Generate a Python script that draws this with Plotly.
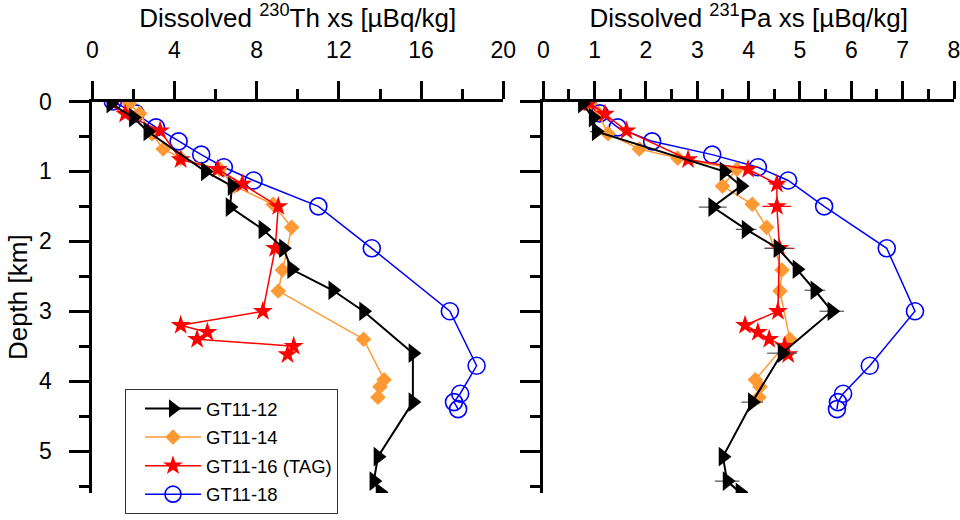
import plotly.graph_objects as go

# ---------------- data ----------------
series_names = ["GT11-12", "GT11-14", "GT11-16 (TAG)", "GT11-18"]

# GT11-12
depth_12 = [0.03, 0.23, 0.43, 1.0, 1.21, 1.51, 1.83, 2.1, 2.4, 2.7, 3.0, 3.6, 4.3, 5.08, 5.43, 5.59]
th_12 = [0.9, 2.0, 2.7, 5.5, 6.8, 6.7, 8.3, 9.3, 9.7, 11.7, 13.2, 15.6, 15.6, 13.9, 13.7, 14.0]
pa_12 = [0.76, 0.97, 1.03, 3.52, 3.85, 3.3, 3.95, 4.57, 4.94, 5.29, 5.62, 4.65, 4.07, 3.5, 3.58, 3.83]
pa_12_err = [0.05, 0.05, 0.12, 0.08, 0.08, 0.27, 0.2, 0.26, 0.08, 0.2, 0.24, 0.29, 0.21, 0.08, 0.24, 0.08]

# GT11-14
depth_14 = [0.03, 0.17, 0.46, 0.68, 0.81, 0.97, 1.21, 1.47, 1.8, 2.41, 2.71, 3.4, 3.98, 4.08, 4.23]
th_14 = [1.8, 2.3, 2.9, 3.45, 4.3, 6.2, 6.9, 8.8, 9.7, 9.25, 9.05, 13.2, 14.2, 14.0, 13.9]
pa_14 = [0.91, 1.07, 1.26, 1.87, 2.62, 3.77, 3.49, 4.07, 4.35, 4.65, 4.61, 4.8, 4.13, 4.22, 4.2]

# GT11-16 (TAG)
depth_16 = [0.02, 0.18, 0.42, 0.83, 0.97, 1.18, 1.5, 2.1, 3.0, 3.2, 3.3, 3.4, 3.5, 3.62]
th_16 = [1.0, 1.6, 3.3, 4.3, 6.1, 7.3, 9.05, 8.9, 8.3, 4.3, 5.6, 5.1, 9.8, 9.5]
pa_16 = [0.9, 1.2, 1.62, 2.82, 3.99, 4.55, 4.55, 4.6, 4.57, 3.93, 4.18, 4.4, 4.7, 4.77]
pa_16_err = [0.03, 0.05, 0.05, 0.08, 0.08, 0.15, 0.28, 0.29, 0.12, 0.05, 0.05, 0.05, 0.1, 0.1]

# GT11-18
depth_18 = [0.0, 0.17, 0.37, 0.57, 0.76, 0.94, 1.13, 1.5, 2.1, 3.0, 3.78, 4.18, 4.3, 4.4]
th_18 = [1.0, 2.1, 3.1, 4.2, 5.3, 6.4, 7.85, 11.0, 13.6, 17.4, 18.7, 17.9, 17.6, 17.8]
pa_18 = [0.87, 1.1, 1.45, 2.12, 3.29, 4.18, 4.77, 5.47, 6.69, 7.24, 6.36, 5.84, 5.74, 5.72]

th_ticks = [0, 4, 8, 12, 16, 20]
pa_ticks = [0, 1, 2, 3, 4, 5, 6, 7, 8]
depth_ticks = [0, 1, 2, 3, 4, 5]

FONT = "Arial, Liberation Sans, sans-serif"

fig = go.Figure()

styles = {
    "GT11-12": dict(color="#000000", symbol="triangle-right", size=17, lw=2.0, open=False),
    "GT11-14": dict(color="#FF9933", symbol="diamond", size=12, lw=1.5, open=False),
    "GT11-16 (TAG)": dict(color="#FF0000", symbol="star", size=15, lw=1.5, open=False),
    "GT11-18": dict(color="#0000FF", symbol="circle-open", size=17, lw=1.5, open=True),
}

data = {
    "GT11-12": (depth_12, th_12, pa_12, pa_12_err),
    "GT11-14": (depth_14, th_14, pa_14, None),
    "GT11-16 (TAG)": (depth_16, th_16, pa_16, pa_16_err),
    "GT11-18": (depth_18, th_18, pa_18, None),
}

draw_order = ["GT11-18", "GT11-14", "GT11-16 (TAG)", "GT11-12"]
for name in draw_order:
    st = styles[name]
    d, th, pa, err = data[name]
    rank = series_names.index(name) + 1
    marker = dict(color=st["color"], symbol=st["symbol"], size=st["size"])
    if st["open"]:
        marker["line"] = dict(color=st["color"], width=1.6)
    else:
        marker["line"] = dict(width=0)
    fig.add_trace(go.Scatter(
        x=th, y=d, xaxis="x", yaxis="y", mode="lines+markers", name=name,
        line=dict(color=st["color"], width=st["lw"]), marker=marker,
        legendrank=rank, legendgroup=f"g{rank}", showlegend=True,
    ))
    ex = None
    if err is not None:
        ex = dict(type="data", array=err, visible=True, width=0, thickness=1.2,
                  color="#555555" if name == "GT11-12" else st["color"])
    fig.add_trace(go.Scatter(
        x=pa, y=d, xaxis="x2", yaxis="y2", mode="lines+markers", name=name,
        line=dict(color=st["color"], width=st["lw"]), marker=marker,
        error_x=ex, legendrank=rank, legendgroup=f"g{rank}", showlegend=False,
    ))

axis_common = dict(
    showline=True, linewidth=3, linecolor="black", ticks="outside",
    tickwidth=3, tickcolor="black", showgrid=False, zeroline=False,
    automargin=False, ticklabeloverflow="allow",
    tickfont=dict(family=FONT, size=23, color="black"),
)

TITLE_FONT = dict(family=FONT, size=26, color="black")
y_dom = [1 - 493 / 520, 1 - 101.5 / 520]

fig.update_layout(
    width=960, height=520,
    margin=dict(l=0, r=0, t=0, b=0),
    plot_bgcolor="white", paper_bgcolor="white",
    font=dict(family=FONT, color="black"),
    xaxis=dict(
        **axis_common, domain=[92.3 / 960, 503.3 / 960], range=[0, 20], side="top",
        anchor="y", tickvals=th_ticks, ticklen=18, ticklabelstandoff=13,
        minor=dict(ticks="outside", dtick=2, ticklen=10, tickwidth=3, tickcolor="black"),
        title=dict(text="Dissolved <sup>230</sup>Th xs [µBq/kg]", font=TITLE_FONT, standoff=6),
    ),
    xaxis2=dict(
        **axis_common, domain=[543.3 / 960, 954 / 960], range=[0, 8], side="top",
        anchor="y2", tickvals=pa_ticks, ticklen=18, ticklabelstandoff=13,
        minor=dict(ticks="outside", dtick=0.5, ticklen=10, tickwidth=3, tickcolor="black"),
        title=dict(text="Dissolved <sup>231</sup>Pa xs [µBq/kg]", font=TITLE_FONT, standoff=6),
    ),
    yaxis=dict(
        **axis_common, domain=y_dom, range=[5.6, 0], anchor="x",
        tickvals=depth_ticks, ticklen=20, ticklabelstandoff=13,
        minor=dict(ticks="outside", dtick=0.5, ticklen=10, tickwidth=3, tickcolor="black"),
        title=dict(text="Depth [km]", font=TITLE_FONT, standoff=4),
    ),
    yaxis2=dict(
        **axis_common, domain=y_dom, range=[5.6, 0], anchor="x2",
        tickvals=depth_ticks, ticklen=20, showticklabels=False,
        minor=dict(ticks="outside", dtick=0.5, ticklen=10, tickwidth=3, tickcolor="black"),
    ),
    legend=dict(
        x=125 / 960, y=1 - 389 / 520, xanchor="left", yanchor="top",
        bordercolor="#333333", borderwidth=1, bgcolor="white",
        font=dict(family=FONT, size=18.5, color="black"),
        itemwidth=56, indentation=14, tracegroupgap=1.5,
        traceorder="grouped",
    ),
)

fig.write_html("out.html")
